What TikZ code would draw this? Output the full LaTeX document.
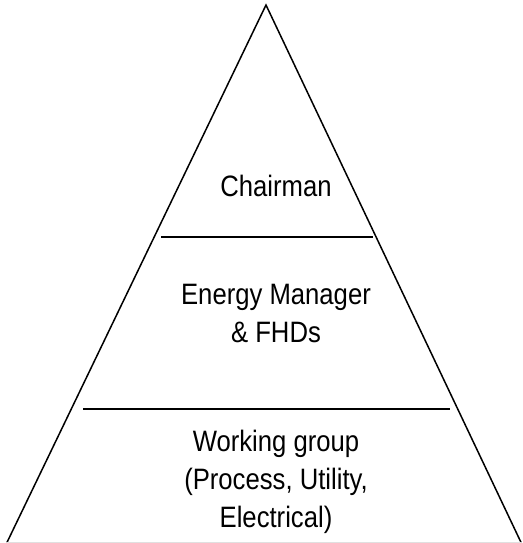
\documentclass[tikz,border=0pt]{standalone}
\usepackage{fontspec}
\setmainfont{Liberation Sans}[FakeStretch=0.87]
\begin{document}
\begin{tikzpicture}[x=1pt, y=1pt, line width=1.5pt]
    \useasboundingbox (0,0) rectangle (522,543);
    \tikzset{level/.style={font=\fontsize{29.5}{38}\selectfont, align=center, anchor=base, inner sep=0pt}}

    \coordinate (T) at (266,538);
    \coordinate (L) at (7,0.6);
    \coordinate (R) at (521,0.6);
    \coordinate (A1) at (161,306);
    \coordinate (B1) at (373,306);
    \coordinate (A2) at (83,134);
    \coordinate (B2) at (450,134);

    \draw[line join=miter] (L)--(T)--(R);
    \draw[black!12, line width=1.2pt] (L)--(R);
    \draw (A1)--(B1);
    \draw (A2)--(B2);

    % base anchor sits on the last line
    \node[level] (chairman) at (276,346) {Chairman};
    \node[level] (manager) at (276,200) {Energy Manager\\\& FHDs};
    \node[level] (group) at (276,16) {Working group\\(Process, Utility,\\Electrical)};
\end{tikzpicture}
\end{document}
